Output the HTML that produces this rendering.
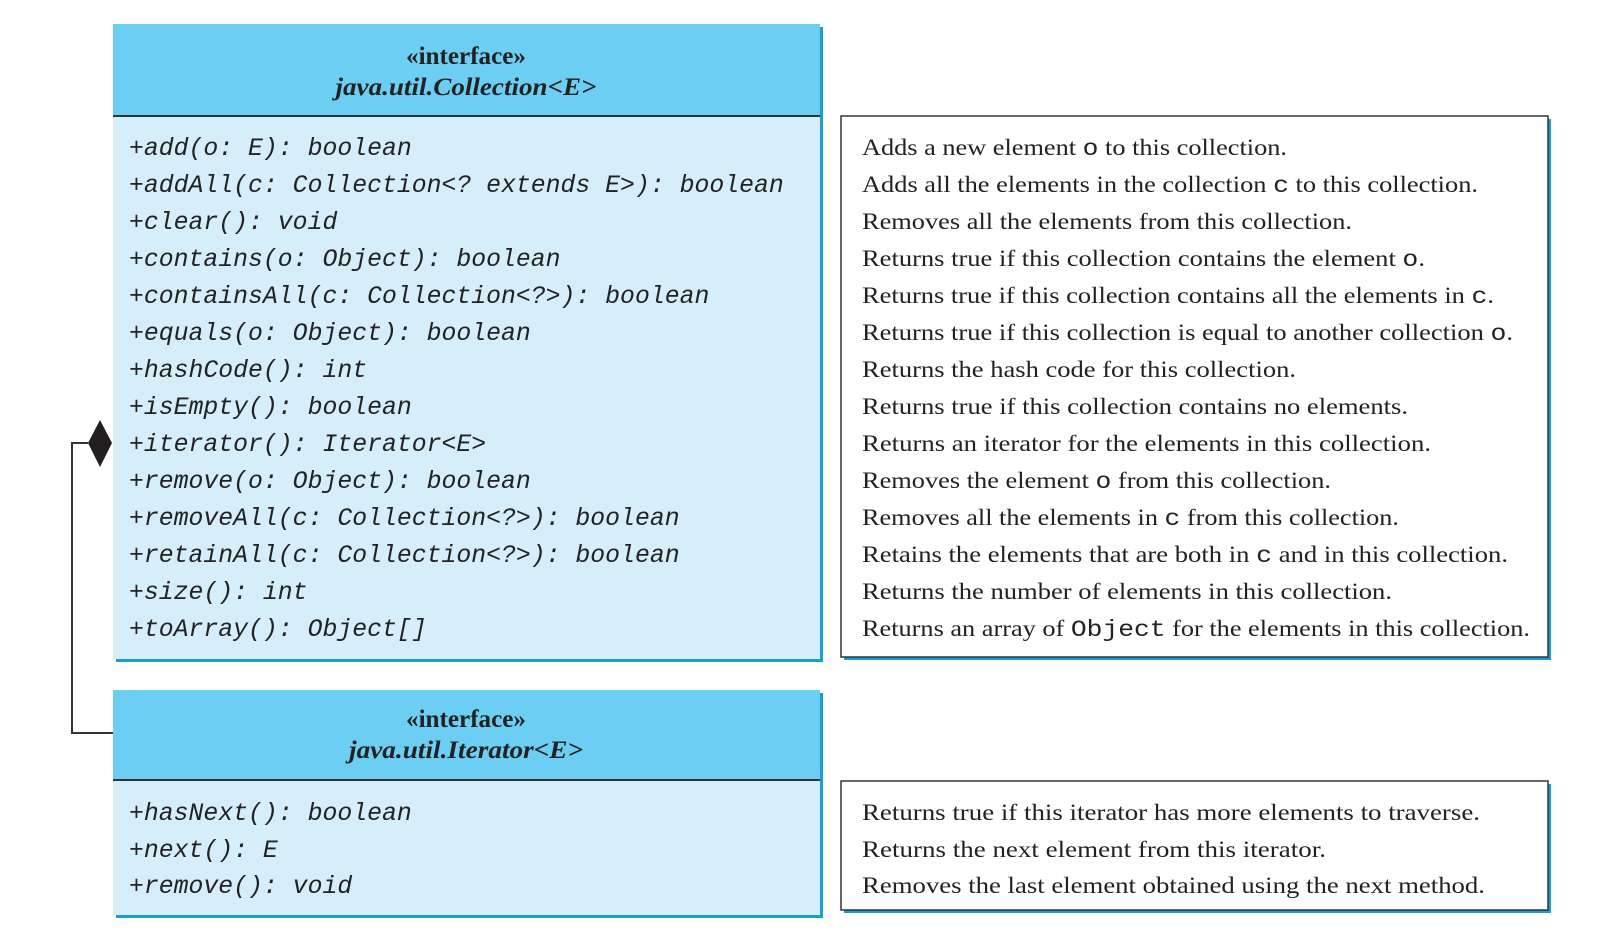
<!DOCTYPE html>
<html><head><meta charset="utf-8"><style>
html,body{margin:0;padding:0;background:#fff;}
svg{display:block}
.m{font-family:"Liberation Mono",monospace;font-style:italic;font-size:24.8px;fill:#222}
.s{font-family:"Liberation Serif",serif;font-size:23px;fill:#222}
.mm{font-family:"Liberation Mono",monospace;font-style:normal}
.h{font-family:"Liberation Serif",serif;font-size:25px;font-weight:bold;fill:#222}
</style></head><body>
<svg width="1599" height="932" viewBox="0 0 1599 932" xmlns="http://www.w3.org/2000/svg">
<polyline points="88,443 72,443 72,733 113,733" fill="none" stroke="#333" stroke-width="2"/>
<polygon points="100,420 112,443 100,467 88,443" fill="#231f20"/>

<rect x="116" y="27" width="707" height="635" fill="#1a9ed0"/>
<rect x="113" y="24" width="707" height="635" fill="#d6eefa"/>
<rect x="113" y="24" width="707" height="92" fill="#6dcef4"/>
<line x1="113" y1="116" x2="820" y2="116" stroke="#333" stroke-width="2"/>
<text class="h" x="466" y="64" text-anchor="middle" textLength="120" lengthAdjust="spacingAndGlyphs">«interface»</text>
<text class="h" x="466" y="95" text-anchor="middle" font-style="italic" textLength="261" lengthAdjust="spacingAndGlyphs">java.util.Collection&lt;E&gt;</text>
<g class="m">
<text x="129" y="155">+add(o: E): boolean</text>
<text x="129" y="192">+addAll(c: Collection&lt;? extends E&gt;): boolean</text>
<text x="129" y="229">+clear(): void</text>
<text x="129" y="266">+contains(o: Object): boolean</text>
<text x="129" y="303">+containsAll(c: Collection&lt;?&gt;): boolean</text>
<text x="129" y="340">+equals(o: Object): boolean</text>
<text x="129" y="377">+hashCode(): int</text>
<text x="129" y="414">+isEmpty(): boolean</text>
<text x="129" y="451">+iterator(): Iterator&lt;E&gt;</text>
<text x="129" y="488">+remove(o: Object): boolean</text>
<text x="129" y="525">+removeAll(c: Collection&lt;?&gt;): boolean</text>
<text x="129" y="562">+retainAll(c: Collection&lt;?&gt;): boolean</text>
<text x="129" y="599">+size(): int</text>
<text x="129" y="636">+toArray(): Object[]</text>
</g>

<rect x="844" y="119" width="707" height="541" fill="#1a9ed0"/>
<rect x="841" y="116" width="707" height="541" fill="#fff" stroke="#333" stroke-width="1.5"/>
<g class="s">
<text x="862" y="155" textLength="425" lengthAdjust="spacingAndGlyphs">Adds a new element <tspan class="mm">o</tspan> to this collection.</text>
<text x="862" y="192" textLength="616" lengthAdjust="spacingAndGlyphs">Adds all the elements in the collection <tspan class="mm">c</tspan> to this collection.</text>
<text x="862" y="229" textLength="490" lengthAdjust="spacingAndGlyphs">Removes all the elements from this collection.</text>
<text x="862" y="266" textLength="563" lengthAdjust="spacingAndGlyphs">Returns true if this collection contains the element <tspan class="mm">o</tspan>.</text>
<text x="862" y="303" textLength="632" lengthAdjust="spacingAndGlyphs">Returns true if this collection contains all the elements in <tspan class="mm">c</tspan>.</text>
<text x="862" y="340" textLength="651" lengthAdjust="spacingAndGlyphs">Returns true if this collection is equal to another collection <tspan class="mm">o</tspan>.</text>
<text x="862" y="377" textLength="434" lengthAdjust="spacingAndGlyphs">Returns the hash code for this collection.</text>
<text x="862" y="414" textLength="546" lengthAdjust="spacingAndGlyphs">Returns true if this collection contains no elements.</text>
<text x="862" y="451" textLength="569" lengthAdjust="spacingAndGlyphs">Returns an iterator for the elements in this collection.</text>
<text x="862" y="488" textLength="469" lengthAdjust="spacingAndGlyphs">Removes the element <tspan class="mm">o</tspan> from this collection.</text>
<text x="862" y="525" textLength="537" lengthAdjust="spacingAndGlyphs">Removes all the elements in <tspan class="mm">c</tspan> from this collection.</text>
<text x="862" y="562" textLength="646" lengthAdjust="spacingAndGlyphs">Retains the elements that are both in <tspan class="mm">c</tspan> and in this collection.</text>
<text x="862" y="599" textLength="530" lengthAdjust="spacingAndGlyphs">Returns the number of elements in this collection.</text>
<text x="862" y="636" textLength="668" lengthAdjust="spacingAndGlyphs">Returns an array of <tspan class="mm">Object</tspan> for the elements in this collection.</text>
</g>

<rect x="116" y="693" width="707" height="225" fill="#1a9ed0"/>
<rect x="113" y="690" width="707" height="225" fill="#d6eefa"/>
<rect x="113" y="690" width="707" height="90" fill="#6dcef4"/>
<line x1="113" y1="780" x2="820" y2="780" stroke="#333" stroke-width="2"/>
<text class="h" x="466" y="727" text-anchor="middle" textLength="120" lengthAdjust="spacingAndGlyphs">«interface»</text>
<text class="h" x="466" y="758" text-anchor="middle" font-style="italic" textLength="234" lengthAdjust="spacingAndGlyphs">java.util.Iterator&lt;E&gt;</text>
<g class="m">
<text x="129" y="820">+hasNext(): boolean</text>
<text x="129" y="857">+next(): E</text>
<text x="129" y="893">+remove(): void</text>
</g>

<rect x="844" y="784" width="707" height="129" fill="#1a9ed0"/>
<rect x="841" y="781" width="707" height="129" fill="#fff" stroke="#333" stroke-width="1.5"/>
<g class="s">
<text x="862" y="820" textLength="618" lengthAdjust="spacingAndGlyphs">Returns true if this iterator has more elements to traverse.</text>
<text x="862" y="857" textLength="464" lengthAdjust="spacingAndGlyphs">Returns the next element from this iterator.</text>
<text x="862" y="893" textLength="623" lengthAdjust="spacingAndGlyphs">Removes the last element obtained using the next method.</text>
</g>
</svg>
</body></html>
